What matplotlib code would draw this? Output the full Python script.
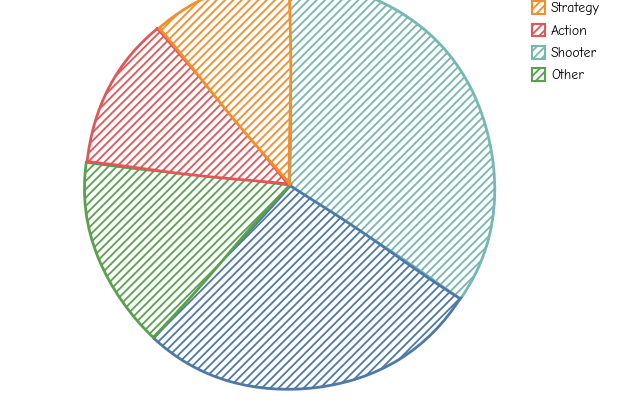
import matplotlib
matplotlib.use("Agg")
import matplotlib.pyplot as plt
from matplotlib.patches import Patch

# data in legend order
labels = ["Strategy", "Action", "Shooter", "Other", "RPG"]
values = [11, 12, 34, 15, 27]
colors = ["#f28e2b", "#e15759", "#76b7b2", "#59a14f", "#4e79a7"]
legend_count = 4  # the blue entry sits above the canvas in the source

plt.rcParams['font.family'] = ['Comic Neue', 'DejaVu Sans']
plt.rcParams['hatch.linewidth'] = 1.3

fig = plt.figure(figsize=(6.4, 4), dpi=100)
ax = fig.add_axes([85/640, 10/400, 410/640, 410/400])

# pie is drawn largest first, clockwise from the top
order = sorted(range(len(values)), key=lambda i: -values[i])
wedges, _ = ax.pie([values[i] for i in order], colors=['white'] * len(order),
                   startangle=90, counterclock=False, radius=1)
for w, i in zip(wedges, order):
    w.set_edgecolor(colors[i])
    w.set_linewidth(2)
    w.set_hatch('////')
    w.set_sketch_params(0.8, 200, 1)

ax.set_xlim(-1, 1)
ax.set_ylim(-1, 1)
ax.set_aspect('equal')
ax.axis('off')

handles = [Patch(facecolor='white', edgecolor=c, hatch='////', linewidth=1.5)
           for c in colors[:legend_count]]
fig.legend(handles, labels[:legend_count], loc='upper left',
           bbox_to_anchor=(519/640, 1.0 + 11/400),
           frameon=False, fontsize=10, handlelength=1.0, handleheight=1.0,
           handletextpad=0.4, labelspacing=0.6)

fig.savefig('out.png', dpi=100)
